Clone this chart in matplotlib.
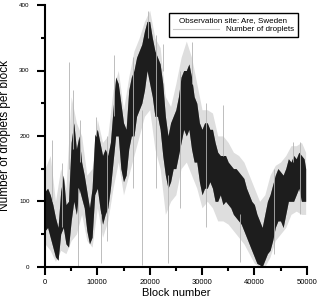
import numpy as np
import matplotlib
matplotlib.use("Agg")
import matplotlib.pyplot as plt
from matplotlib.lines import Line2D

plt.rcParams['font.family'] = ['Liberation Sans', 'DejaVu Sans']

# =============================================================
# DATA
# =============================================================
# dense (dark) part of the trace, every 500 blocks
core_x = list(range(0, 50000, 500)) + [49800]
core_lo = [55, 60, 45, 30, 15, 10, 50, 60, 35, 30,
           70, 100, 80, 120, 105, 90, 55, 35, 45, 110,
           120, 90, 65, 80, 90, 120, 160, 200, 200, 150,
           130, 140, 180, 200, 200, 230, 240, 250, 270, 300,
           280, 260, 230, 230, 210, 170, 140, 120, 130, 150,
           150, 170, 190, 210, 200, 210, 180, 160, 160, 130,
           110, 120, 120, 130, 120, 100, 100, 110, 95, 100,
           95, 90, 80, 75, 70, 65, 55, 45, 35, 25,
           15, 5, 3, 0, 10, 20, 25, 40, 60, 70,
           70, 60, 80, 100, 100, 100, 110, 120, 100, 100,
           100]
core_hi = [115, 120, 110, 95, 75, 60, 115, 140, 95, 100,
           190, 220, 180, 200, 160, 140, 115, 90, 120, 200,
           210, 190, 170, 180, 170, 190, 240, 290, 280, 250,
           220, 210, 270, 290, 300, 320, 330, 340, 360, 375,
           375, 350, 330, 320, 310, 280, 230, 200, 220, 230,
           240, 260, 290, 300, 300, 310, 290, 260, 250, 220,
           210, 220, 220, 210, 210, 190, 175, 170, 170, 170,
           160, 155, 150, 150, 145, 140, 135, 120, 110, 100,
           95, 80, 70, 60, 80, 100, 110, 125, 140, 150,
           145, 140, 150, 165, 160, 170, 165, 175, 170, 165,
           150]
# faint outer fringe, every 1000 blocks
outer_x = list(range(0, 50000, 1000)) + [49800]
outer_lo = [35, 25, 8, 25, 20, 40, 50, 80, 40, 30,
            90, 45, 70, 120, 160, 110, 140, 170, 200, 230,
            240, 180, 150, 80, 100, 110, 150, 160, 140, 120,
            90, 100, 90, 70, 70, 65, 55, 45, 35, 20,
            5, 0, 0, 15, 40, 50, 60, 80, 85, 80,
            80]
outer_hi = [150, 170, 100, 150, 120, 260, 220, 200, 140, 150,
            225, 190, 200, 270, 300, 240, 290, 330, 350, 375,
            392, 350, 335, 260, 245, 280, 320, 345, 320, 280,
            240, 240, 235, 200, 200, 190, 175, 170, 160, 140,
            120, 100, 110, 140, 155, 160, 170, 185, 185, 190,
            175]
# isolated single-block spikes
spike_x  = [1280, 4650, 5300, 6600, 9700, 13250, 19750, 22600, 28000, 34000, 47400,
            6370, 10700, 18600, 23500, 37300,
            3300, 11800, 16800, 21200, 25800, 30800, 43800, 48800]
spike_lo = [100, 150, 180, 160, 200, 230, 350, 300, 280, 170, 160,
            0, 5, 3, 5, 7,
            60, 40, 120, 120, 90, 60, 20, 80]
spike_hi = [194, 313, 270, 224, 229, 324, 391, 340, 344, 247, 191,
            120, 80, 240, 140, 80,
            158, 200, 320, 355, 300, 250, 150, 190]

# =============================================================
# PLOT
# =============================================================
fig = plt.figure(figsize=(3.2, 3.0), dpi=100)
ax = fig.add_axes([0.1406, 0.111, 0.8178, 0.872])

ax.fill_between(outer_x, outer_lo, outer_hi, color="0.87", lw=0)
ax.vlines(spike_x, spike_lo, spike_hi, color="0.7", lw=0.6)
ax.fill_between(core_x, core_lo, core_hi, color="0.45", lw=0)
ax.fill_between(core_x, core_lo, core_hi, color="black", lw=0, alpha=0.75)

ax.set_xlim(0, 50000)
ax.set_ylim(0, 400)
ax.set_xticks(range(0, 50001, 10000))
ax.set_xticks(range(5000, 50000, 10000), minor=True)
ax.set_yticks(range(0, 401, 100))
ax.set_yticks(range(50, 400, 100), minor=True)

for s in ["top", "right"]:
    ax.spines[s].set_visible(False)
for s in ["left", "bottom"]:
    ax.spines[s].set_linewidth(1.5)

ax.tick_params(which="major", direction="out", length=6, width=1.5)
ax.tick_params(which="minor", direction="out", length=3, width=1.5)
ax.tick_params(axis="x", labelsize=5.5, pad=3)
ax.tick_params(axis="y", labelsize=4.5, pad=5)

ax.set_xlabel("Block number", fontsize=8, labelpad=1)
ax.set_ylabel("Number of droplets per block", fontsize=8.5, labelpad=6)

handle = Line2D([], [], color="0.8", lw=0.8)
leg = ax.legend([handle], ["Number of droplets"], title="Observation site: Are, Sweden",
                loc="upper right", bbox_to_anchor=(0.982, 0.985),
                fontsize=5.8, title_fontsize=5.8, handlelength=5.8,
                fancybox=False, framealpha=1, edgecolor="black",
                borderpad=0.5, labelspacing=0.2, handletextpad=0.8)
leg.get_frame().set_linewidth(1.0)

fig.savefig("out.png", dpi=100)
